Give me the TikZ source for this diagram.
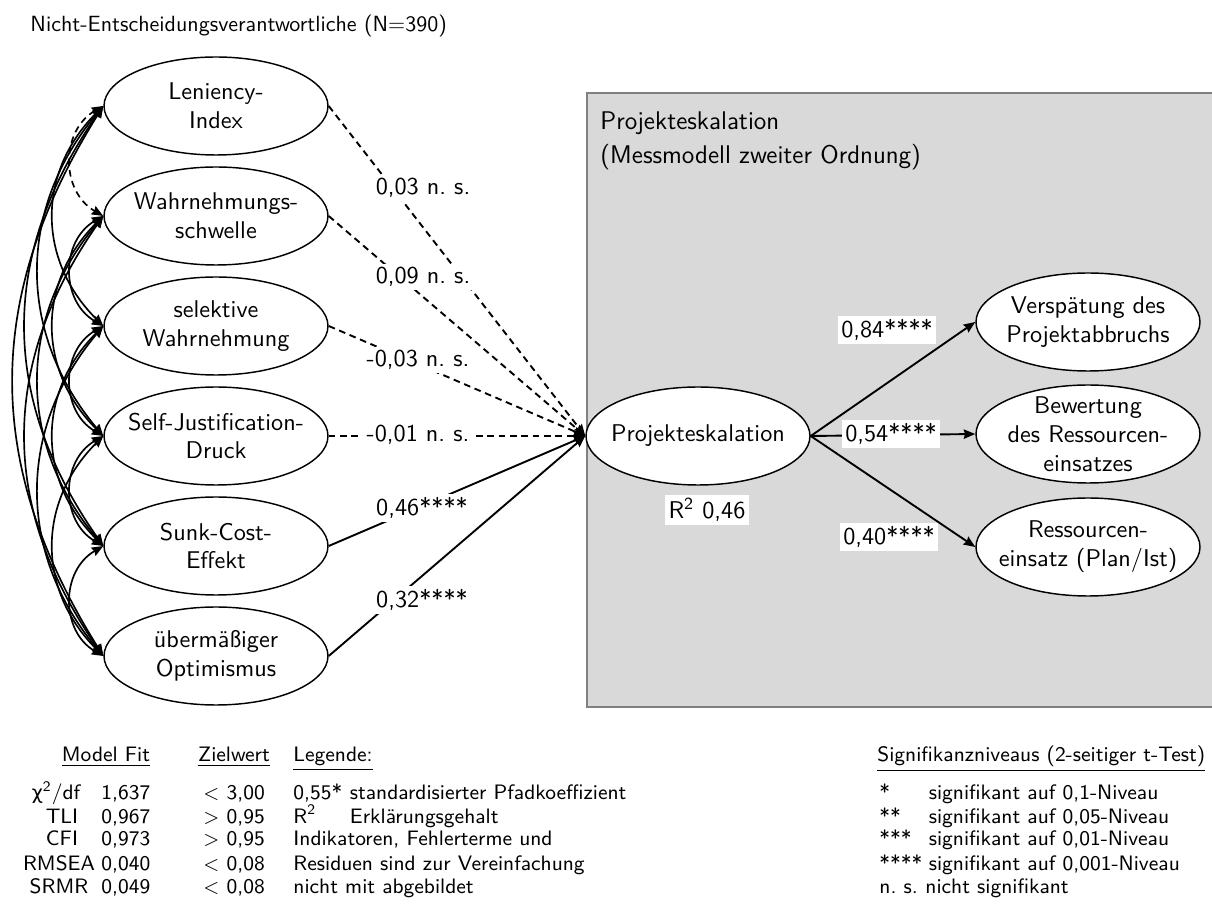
\documentclass[tikz,border=0pt]{standalone}
\usepackage{fontspec}
\newfontfamily\grkfont[Scale=0.92]{DejaVu Sans}
\usetikzlibrary{shapes.geometric,arrows.meta,calc}
\definecolor{boxgrey}{RGB}{217,217,217}
\definecolor{boxedge}{RGB}{128,128,128}
\frenchspacing
\begin{document}
\begin{tikzpicture}[x=0.45pt,y=-0.45pt,
  every node/.style={font=\sffamily\fontsize{10.9}{13}\selectfont},
  lat/.style={ellipse,draw,line width=0.65pt,fill=white,minimum width=100.8pt,minimum height=44.1pt,inner sep=0pt},
  intext/.style={align=center,inner sep=0pt},
  tip/.style={-{Stealth[length=5.2pt,width=4.2pt,inset=0.6pt]}},
  cov/.style={{Stealth[length=5.2pt,width=4.2pt,inset=0.6pt]}-{Stealth[length=5.2pt,width=4.2pt,inset=0.6pt]},line width=0.75pt},
  nsline/.style={line width=0.85pt,dash pattern=on 3pt off 2.1pt},
  sigline/.style={line width=0.85pt},
  coef/.style={fill=white,inner sep=1.5pt},
  txt/.style={anchor=base west,inner sep=0pt},
  ctxt/.style={anchor=base,inner sep=0pt},
  leg/.style={font=\sffamily\fontsize{9.4}{11}\selectfont},
  greybox/.style={draw=boxedge,fill=boxgrey,line width=0.7pt,anchor=north west,minimum width=285.3pt,minimum height=276.3pt,inner sep=0pt},
]
\useasboundingbox (0,0) rectangle (1212,924);

\node[txt,font=\sffamily\fontsize{9.9}{12}\selectfont] (title) at (30,32) {Nicht-Entscheidungsverantwortliche (N=390)};

% grey box
\node[greybox] (box) at (586,92) {};
\node[txt,font=\sffamily\fontsize{11.5}{14}\selectfont] (bt1) at (600,130) {Projekteskalation};
\node[txt,font=\sffamily\fontsize{11.5}{14}\selectfont] (bt2) at (600,164) {(Messmodell zweiter Ordnung)};

% left latent variables
\node[lat,label={[intext]center:{Leniency-\\Index}}] (l1) at (216,106) {};
\node[lat,label={[intext]center:{Wahrnehmungs-\\schwelle}}] (l2) at (216,216) {};
\node[lat,label={[intext]center:{selektive\\Wahrnehmung}}] (l3) at (216,326) {};
\node[lat,label={[intext]center:{Self-Justification-\\Druck}}] (l4) at (216,436) {};
\node[lat,label={[intext]center:{Sunk-Cost-\\Effekt}}] (l5) at (216,546) {};
\node[lat,label={[intext]center:{übermäßiger\\Optimismus}}] (l6) at (216,656) {};

% central and right
\node[lat,label={[intext]center:{Projekteskalation}}] (pe) at (698,436) {};
\node[lat,label={[intext]center:{Verspätung des\\Projektabbruchs}}] (r1) at (1088,322) {};
\node[lat,label={[intext]center:{Bewertung\\des Ressourcen-\\einsatzes}}] (r2) at (1088,434) {};
\node[lat,label={[intext]center:{Ressourcen-\\einsatz (Plan/Ist)}}] (r3) at (1088,547) {};

% covariances
\draw[cov,dash pattern=on 3pt off 2.1pt] (l1.west) .. controls ($(l1.west)+(-42.9,24.8)$) and ($(l2.west)+(-42.9,-24.8)$) .. (l2.west);
\foreach \a/\b/\c/\s in {2/3/42.9/24.8,3/4/42.9/24.8,4/5/42.9/24.8,5/6/42.9/24.8,
  1/3/66.4/66.4,2/4/66.4/66.4,3/5/66.4/66.4,4/6/66.4/66.4,
  1/4/86.4/103,2/5/86.4/103,3/6/86.4/103,
  1/5/103.8/148.2,2/6/103.8/148.2,
  1/6/119.8/191.7}
  \draw[cov] (l\a.west) .. controls ($(l\a.west)+(-\c,\s)$) and ($(l\b.west)+(-\c,-\s)$) .. (l\b.west);

% paths to Projekteskalation
\foreach \i in {1,2,3,4}
  \draw[nsline,tip] (l\i.east) -- (pe.west);
\foreach \i in {5,6}
  \draw[sigline,tip] (l\i.east) -- (pe.west);
\foreach \i in {1,2,3}
  \draw[sigline,tip] (pe.east) -- (r\i.west);

% coefficients
\node[coef] (c1) at (423,188) {0,03 n. s.};
\node[coef] (c2) at (423,277) {0,09 n. s.};
\node[coef] (c3) at (418,360) {-0,03 n. s.};
\node[coef] (c4) at (418,435) {-0,01 n. s.};
\node[coef] (c5) at (422,508) {0,46****};
\node[coef] (c6) at (422,600) {0,32****};
\node[coef] (rsq) at (707,510) {R\textsuperscript{2} 0,46};
\node[coef] (d1) at (887,330) {0,84****};
\node[coef] (d2) at (891,434) {0,54****};
\node[coef] (d3) at (889,537) {0,40****};

% legend: model fit
\begin{scope}[every node/.append style={leg}]
\node[ctxt] (hfit) at (106,762) {\underline{Model Fit}};
\node[ctxt] (hziel) at (234,762) {\underline{Zielwert}};
\node[ctxt] (f1) at (56,800) {{\grkfont χ}\textsuperscript{2}/df};
\node[ctxt] (f2) at (62,823) {TLI};
\node[ctxt] (f3) at (62,846) {CFI};
\node[ctxt] (f4) at (59,870) {RMSEA};
\node[ctxt] (f5) at (59,893) {SRMR};
\node[txt] (v1) at (101,800) {1,637};
\node[txt] (v2) at (101,823) {0,967};
\node[txt] (v3) at (101,846) {0,973};
\node[txt] (v4) at (101,870) {0,040};
\node[txt] (v5) at (101,893) {0,049};
\node[txt] (z1) at (203,800) {$<$ 3,00};
\node[txt] (z2) at (203,823) {$>$ 0,95};
\node[txt] (z3) at (203,846) {$>$ 0,95};
\node[txt] (z4) at (203,870) {$<$ 0,08};
\node[txt] (z5) at (203,893) {$<$ 0,08};

% legend: Legende
\node[txt] (hleg) at (293,762) {\underline{Legende:}};
\node[txt] (g1a) at (293,800) {0,55*};
\coordinate (gcol) at ($(g1a.base east)+(3pt,0)$);
\node[txt] (g1b) at (gcol) {standardisierter Pfadkoeffizient};
\node[txt] (g2a) at (293,823) {R\textsuperscript{2}};
\node[txt] (g2b) at (gcol |- g2a.base) {Erklärungsgehalt};
\node[txt] (g3) at (293,846) {Indikatoren, Fehlerterme und};
\node[txt] (g4) at (293,870) {Residuen sind zur Vereinfachung};
\node[txt] (g5) at (293,893) {nicht mit abgebildet};

% legend: Signifikanz
\node[txt] (hsig) at (877,762) {\underline{Signifikanzniveaus (2-seitiger t-Test)}};
\node[txt] (s1a) at (879,800) {*};
\node[txt] (s2a) at (879,823) {**};
\node[txt] (s3a) at (879,846) {***};
\node[txt] (s4a) at (879,870) {****};
\node[txt] (s5a) at (879,893) {n. s.};
\coordinate (scol) at ($(s4a.base east)+(2.5pt,0)$);
\node[txt] (s1b) at (scol |- s1a.base) {signifikant auf 0,1-Niveau};
\node[txt] (s2b) at (scol |- s2a.base) {signifikant auf 0,05-Niveau};
\node[txt] (s3b) at (scol |- s3a.base) {signifikant auf 0,01-Niveau};
\node[txt] (s4b) at (scol |- s4a.base) {signifikant auf 0,001-Niveau};
\node[txt] (s5b) at ($(s5a.base east)+(3pt,0)$) {nicht signifikant};
\end{scope}
\end{tikzpicture}
\end{document}
